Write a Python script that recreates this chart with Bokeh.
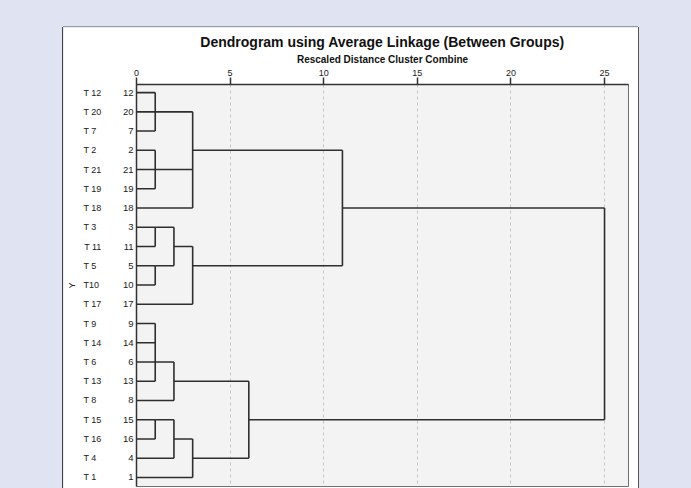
from bokeh.plotting import figure
from bokeh.models import ColumnDataSource, FixedTicker, LinearAxis, Range1d
from bokeh.embed import file_html
from bokeh.resources import INLINE

# ---- data ----
row_numbers = [12, 20, 7, 2, 21, 19, 18, 3, 11, 5, 10, 17, 9, 14, 6, 13, 8, 15, 16, 4, 1]
row_names = ["T 12", "T 20", "T 7", "T 2", "T 21", "T 19", "T 18", "T 3", "T 11", "T 5",
             "T10", "T 17", "T 9", "T 14", "T 6", "T 13", "T 8", "T 15", "T 16", "T 4", "T 1"]

# merges (rescaled distance), the leaf rows and earlier merges each one joins,
# and the row its own link leaves from
merge_height = [1, 1, 3, 1, 1, 2, 3, 11, 1, 2, 1, 2, 3, 6, 25]
merge_leaves = [[0, 1, 2], [3, 4, 5], [6], [7, 8], [9, 10], [], [11], [],
                [12, 13, 14, 15], [16], [17, 18], [19], [20], [], []]
merge_subclusters = [[], [], [0, 1], [], [], [3, 4], [5], [2, 6],
                     [], [8], [], [10], [11], [9, 12], [7, 13]]
merge_out_row = [1, 4, 3, 7, 9, 8, 9, 6, 14, 15, 17, 18, 19, 17, None]

x_ticks = [0, 5, 10, 15, 20, 25]
grid_ticks = [5, 10, 15, 20, 25]
title_text = "Dendrogram using Average Linkage (Between Groups)"
x_label = "Rescaled Distance Cluster Combine"
y_label = "Y"

# ---- build segments ----
x0, x1, y0, y1 = [], [], [], []
for k, h in enumerate(merge_height):
    rows = []
    for r in merge_leaves[k]:
        x0.append(0); x1.append(h); y0.append(r); y1.append(r); rows.append(r)
    for j in merge_subclusters[k]:
        r = merge_out_row[j]
        x0.append(merge_height[j]); x1.append(h); y0.append(r); y1.append(r); rows.append(r)
    x0.append(h); x1.append(h); y0.append(min(rows)); y1.append(max(rows))
src = ColumnDataSource(dict(x0=x0, x1=x1, y0=y0, y1=y1))

FONT = "Liberation Sans"
rows_idx = list(range(len(row_numbers)))

p = figure(width=575, height=461,
           x_range=Range1d(0, 26.28), y_range=Range1d(20.47, -0.42),
           x_axis_location="above", output_backend="svg", toolbar_location=None,
           min_border_left=73, min_border_right=10, min_border_top=57, min_border_bottom=2,
           background_fill_color="#f3f3f3", border_fill_color="white",
           outline_line_color="#707070", outline_line_width=1,
           margin=(27, 0, 0, 63),
           styles={"box-shadow": "-1px 0 0 0 #444444, 1px 0 0 0 #555555, 0 -1px 0 0 #9a9a9a"})

p.segment("x0", "y0", "x1", "y1", source=src, line_color="#2e2e2e", line_width=1.6)

# title
p.title.text = title_text
p.title.align = "center"
p.title.text_font = FONT
p.title.text_font_size = "14px"
p.title.text_font_style = "bold"
p.title.text_color = "#111111"
p.title.standoff = 2

# top axis
xa = p.xaxis[0]
xa.ticker = FixedTicker(ticks=x_ticks)
xa.axis_label = x_label
xa.axis_label_text_font = FONT
xa.axis_label_text_font_size = "10px"
xa.axis_label_text_font_style = "bold"
xa.axis_label_text_color = "#111111"
xa.axis_label_standoff = 2
xa.major_label_text_font = FONT
xa.major_label_text_font_size = "9px"
xa.major_label_text_color = "#222222"
xa.major_label_standoff = 2
xa.major_tick_out = 7
xa.major_tick_in = 0
xa.minor_tick_line_color = None
xa.axis_line_color = "#333333"
xa.axis_line_width = 1.5
xa.major_tick_line_color = "#333333"
xa.major_tick_line_width = 1.5

# grid
p.xgrid.ticker = FixedTicker(ticks=grid_ticks)
p.xgrid.grid_line_color = "#c4c4c4"
p.xgrid.grid_line_dash = "3 3"
p.xgrid.grid_line_width = 1
p.ygrid.visible = False

# left axis: case numbers
ya = p.yaxis[0]
ya.ticker = FixedTicker(ticks=rows_idx)
ya.major_label_overrides = {i: str(n) for i, n in zip(rows_idx, row_numbers)}
ya.major_label_text_font = FONT
ya.major_label_text_font_size = "9.5px"
ya.major_label_text_color = "#222222"
ya.major_label_standoff = 3
ya.major_tick_out = 0
ya.major_tick_in = 0
ya.minor_tick_line_color = None
ya.axis_line_color = "#333333"
ya.axis_line_width = 1.5

# second left axis: case names
def pad(name):
    digits = len(name.split(" ")[-1]) if " " in name else 0
    if " " not in name:
        return name + "\u00a0"
    return name + ("\u2007" if digits == 1 else "")

ya2 = LinearAxis(ticker=FixedTicker(ticks=rows_idx),
                 major_label_overrides={i: pad(n) for i, n in zip(rows_idx, row_names)})
ya2.major_label_text_font = FONT
ya2.major_label_text_font_size = "9px"
ya2.major_label_text_color = "#222222"
ya2.major_label_standoff = 18
ya2.major_tick_out = 0
ya2.major_tick_in = 0
ya2.minor_tick_line_color = None
ya2.axis_line_color = None
ya2.major_tick_line_color = None
ya2.axis_label = y_label
ya2.axis_label_text_font = FONT
ya2.axis_label_text_font_size = "9px"
ya2.axis_label_text_font_style = "normal"
ya2.axis_label_text_color = "#222222"
ya2.axis_label_standoff = 3
p.add_layout(ya2, "left")

page_style = ("{% block postamble %}<style>html, body { margin: 0; padding: 0; "
              "background-color: #e0e4f2; overflow: hidden; }</style>{% endblock %}")

open("out.html", "w").write(file_html(p, INLINE, template=page_style))
